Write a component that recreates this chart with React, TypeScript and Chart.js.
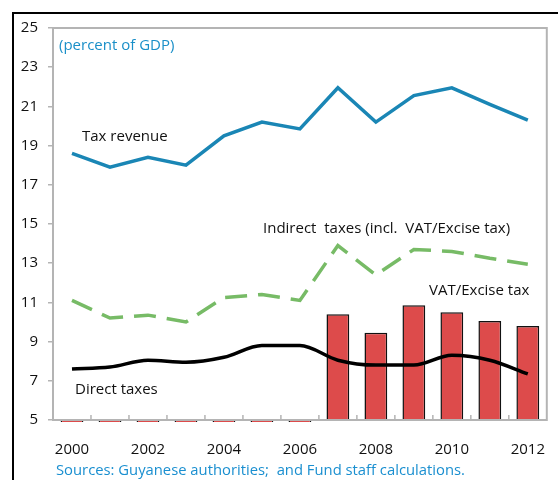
import React, { useEffect, useRef } from "react";
import { Chart, registerables } from "chart.js";

Chart.register(...registerables);

const years = ["2000", "2001", "2002", "2003", "2004", "2005", "2006", "2007", "2008", "2009", "2010", "2011", "2012"];
const taxRevenue = [18.6, 17.9, 18.4, 18.0, 19.5, 20.2, 19.85, 21.95, 20.2, 21.55, 21.95, 21.1, 20.3];
const indirectTaxes = [11.1, 10.2, 10.35, 10.0, 11.25, 11.4, 11.1, 13.9, 12.4, 13.7, 13.6, 13.25, 12.95];
const directTaxes = [7.6, 7.7, 8.05, 7.95, 8.2, 8.8, 8.8, 8.05, 7.8, 7.8, 8.3, 8.05, 7.35];
const vatExcise = [0, 0, 0, 0, 0, 0, 0, 10.4, 9.45, 10.85, 10.5, 10.05, 9.8];
const yTicks = [5, 7, 9, 11, 13, 15, 17, 19, 21, 23, 25];

const FONT = "'Open Sans', sans-serif";

const overlay = {
  id: "overlay",
  afterDatasetsDraw(chart: any) {
    const { ctx, chartArea } = chart;
    const x = chart.scales.x;
    ctx.save();
    // plot box
    ctx.strokeStyle = "#b4b4b4";
    ctx.lineWidth = 2;
    ctx.strokeRect(chartArea.left, chartArea.top, chartArea.right - chartArea.left, chartArea.bottom - chartArea.top);
    // inward x ticks at category boundaries
    ctx.lineWidth = 1.5;
    for (let i = 1; i < years.length; i++) {
      const px = (x.getPixelForValue(i - 1) + x.getPixelForValue(i)) / 2;
      ctx.beginPath();
      ctx.moveTo(px, chartArea.bottom);
      ctx.lineTo(px, chartArea.bottom - 5);
      ctx.stroke();
    }
    // outer frame
    ctx.strokeStyle = "#000";
    ctx.lineWidth = 2;
    ctx.beginPath();
    ctx.moveTo(13, 480);
    ctx.lineTo(13, 13);
    ctx.lineTo(558, 13);
    ctx.stroke();
    // texts
    ctx.textBaseline = "alphabetic";
    ctx.textAlign = "left";
    ctx.font = `15px ${FONT}`;
    ctx.fillStyle = "#1a8fc8";
    ctx.fillText("(percent of GDP)", 59, 50);
    ctx.fillStyle = "#111";
    ctx.fillText("Tax revenue", 82, 141);
    ctx.fillText("Indirect  taxes (incl.  VAT/Excise tax)", 263, 233);
    ctx.fillText("VAT/Excise tax", 429, 295);
    ctx.fillText("Direct taxes", 75, 394);
    ctx.font = `14.8px ${FONT}`;
    ctx.fillStyle = "#1a8fd0";
    ctx.fillText("Sources: Guyanese authorities;  and Fund staff calculations.", 56, 475);
    ctx.restore();
  },
};

export default function App() {
  const ref = useRef<HTMLCanvasElement>(null);
  useEffect(() => {
    const chart = new Chart(ref.current!, {
      type: "bar",
      data: {
        labels: years,
        datasets: [
          {
            type: "line",
            label: "Tax revenue",
            data: taxRevenue,
            borderColor: "#1a86b5",
            borderWidth: 3.5,
            pointRadius: 0,
            tension: 0,
            order: 1,
          },
          {
            type: "line",
            label: "Indirect taxes",
            data: indirectTaxes,
            borderColor: "#77bb66",
            borderWidth: 3.5,
            borderDash: [22, 11],
            pointRadius: 0,
            tension: 0,
            order: 2,
          },
          {
            type: "line",
            label: "Direct taxes",
            data: directTaxes,
            borderColor: "#000",
            borderWidth: 3.5,
            pointRadius: 0,
            cubicInterpolationMode: "monotone",
            order: 0,
          },
          {
            type: "bar",
            label: "VAT/Excise tax",
            data: vatExcise,
            base: 5,
            backgroundColor: "#dd4b4b",
            borderColor: "#111",
            borderWidth: 1.5,
            barPercentage: 0.6,
            categoryPercentage: 1,
            clip: { left: 5, top: 5, right: 5, bottom: 2 },
            order: 10,
          } as any,
        ],
      },
      options: {
        responsive: false,
        animation: false,
        layout: { padding: { top: 28, right: 1, left: 0, bottom: 0 } },
        plugins: { legend: { display: false }, tooltip: { enabled: false } },
        scales: {
          x: {
            offset: true,
            grid: { display: false },
            border: { display: false },
            ticks: {
              autoSkip: false,
              maxRotation: 0,
              padding: 13,
              color: "#111",
              font: { family: FONT, size: 15 },
              callback: (_v: any, i: number) => (i % 2 === 0 ? years[i] : ""),
            },
            afterFit: (s: any) => {
              s.height = 60;
            },
          },
          y: {
            min: 5,
            max: 25,
            grid: { drawOnChartArea: false, drawTicks: true, tickLength: 5, color: "#b4b4b4", lineWidth: 1.5 },
            border: { display: false },
            afterBuildTicks: (s: any) => {
              s.ticks = yTicks.map((v) => ({ value: v }));
            },
            ticks: {
              padding: 10,
              color: "#111",
              font: { family: FONT, size: 15 },
            },
            afterFit: (s: any) => {
              s.width = 53;
            },
          },
        },
      },
      plugins: [overlay],
    });
    return () => chart.destroy();
  }, []);
  return (
    <div style={{ position: "fixed", left: 0, top: 0, width: 558, height: 480, background: "#fff" }}>
      <canvas ref={ref} width={558} height={480} style={{ width: 558, height: 480, display: "block" }} />
    </div>
  );
}
